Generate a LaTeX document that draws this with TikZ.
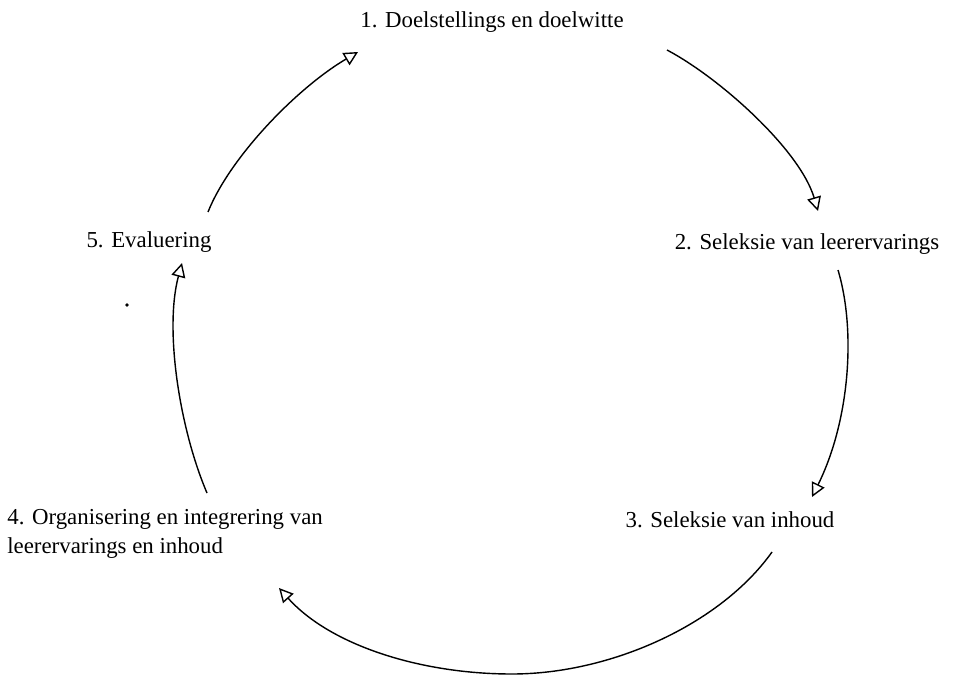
\documentclass[tikz,border=0pt]{standalone}
\usepackage{fontspec}
\setmainfont{Liberation Serif}
\usetikzlibrary{arrows.meta}

\tikzstyle{stage} = [inner sep = 0pt, font = \fontsize{13}{16.5}\selectfont]
\tikzstyle{arrow} = [thick, -{Triangle[open, length = 8pt, width = 8pt]}]

\begin{document}
\begin{tikzpicture}[x = 0.02cm, y = -0.02cm]

    \useasboundingbox (0,0) rectangle (960,686);

    \node(doel)[stage] at (492,22) {1. Doelstellings en doelwitte};
    \node(ervar)[stage] at (807,244) {2. Seleksie van leerervarings};
    \node(inhoud)[stage] at (730,520) {3. Seleksie van inhoud};
    \node(organ)[stage, align = left, anchor = north west] at (7,509) {4. Organisering en integrering van\\leerervarings en inhoud};
    \node(eval)[stage] at (149,242) {5. Evaluering};

    \coordinate(a1) at (208,212);
    \coordinate(a2) at (358,52);
    \coordinate(b1) at (667,50);
    \coordinate(b2) at (818,211);
    \coordinate(c1) at (838,270);
    \coordinate(c2) at (812,497);
    \coordinate(d1) at (772,552);
    \coordinate(d2) at (279,588);
    \coordinate(e1) at (207,493);
    \coordinate(e2) at (182,263);

    \draw[arrow](a1) .. controls (230,157) and (297,88) .. (a2);
    \draw[arrow](b1) .. controls (720,78) and (800,150) .. (b2);
    \draw[arrow](c1) .. controls (856,330) and (850,420) .. (c2);
    \draw[arrow](d1) .. controls (720,625) and (610,674) .. (512,674)
        .. controls (420,674) and (330,645) .. (d2);
    \draw[arrow](e1) .. controls (180,430) and (164,330) .. (e2);

    \fill (127,305) circle (1pt);

\end{tikzpicture}
\end{document}
